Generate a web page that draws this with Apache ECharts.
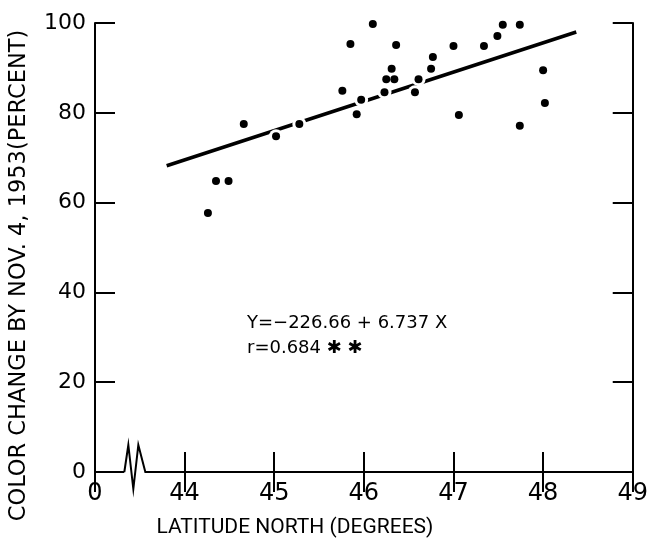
<!DOCTYPE html>
<html><head><meta charset="utf-8">
<script src="https://cdn.jsdelivr.net/npm/echarts@6/dist/echarts.min.js"></script>
<style>html,body{margin:0;padding:0;background:#fff}#c{width:651px;height:545px}</style>
</head><body><div id="c"></div>
<script>
// ---- data ----
const latitude = [44.26, 44.35, 44.49, 44.66, 45.02, 45.28, 45.76, 45.85, 45.92, 45.97,
  46.10, 46.23, 46.25, 46.31, 46.34, 46.36, 46.57, 46.61, 46.75, 46.77,
  47.00, 47.06, 47.34, 47.49, 47.55, 47.74, 47.74, 48.00, 48.02];
const colorChange = [57.7, 64.8, 64.8, 77.5, 74.8, 77.5, 84.9, 95.3, 79.7, 82.9,
  99.8, 84.6, 87.5, 89.8, 87.5, 95.1, 84.6, 87.5, 89.8, 92.4,
  94.9, 79.5, 94.9, 97.1, 99.6, 99.6, 77.1, 89.5, 82.2];
const fitLatitude = [43.80, 48.37];
const fitColorChange = [68.2, 98.0];
const xTickValues = [43, 44, 45, 46, 47, 48, 49];
const xTickLabels = ['0', '44', '45', '46', '47', '48', '49'];
const yTickValues = [0, 20, 40, 60, 80, 100];
const xBreakAt = 43.45;
const xTitle = 'LATITUDE NORTH (DEGREES)';
const yTitle = 'COLOR CHANGE BY NOV. 4, 1953(PERCENT)';
const equationLines = ['Y=\u2212226.66 + 6.737 X', 'r=0.684 \u2731 \u2731'];

const FONT = 'DejaVu Sans';
const pts = latitude.map((x, i) => [x, colorChange[i]]);
const fit = fitLatitude.map((x, i) => [x, fitColorChange[i]]);

const chart = echarts.init(document.getElementById('c'), null, {renderer: 'canvas'});
const lineStyle = {color: '#000', width: 2};
const tick = {show: true, inside: true, length: 20, lineStyle: {color: '#000', width: 2}};
const xMin = xTickValues[0], xMax = xTickValues[xTickValues.length - 1];
const yMin = yTickValues[0], yMax = yTickValues[yTickValues.length - 1];

chart.setOption({
  animation: false,
  backgroundColor: '#fff',
  grid: {left: 94, right: 14, top: 23, bottom: 73},
  xAxis: [{
    type: 'value', position: 'bottom', min: xMin, max: xMax, interval: 1,
    axisLine: {show: true, lineStyle}, axisTick: tick, splitLine: {show: false},
    axisLabel: {color: '#000', fontFamily: FONT, fontSize: 24, margin: 10,
      formatter: v => xTickLabels[xTickValues.indexOf(Math.round(v))] ?? ''},
    name: xTitle, nameLocation: 'middle', nameGap: 45,
    nameTextStyle: {color: '#000', fontFamily: 'Roboto', fontSize: 21, padding: [0, 138, 0, 0]}
  }, {
    type: 'value', position: 'top', min: xMin, max: xMax, interval: 1,
    axisLine: {show: true, lineStyle}, axisTick: tick, axisLabel: {show: false}, splitLine: {show: false}
  }],
  yAxis: [{
    type: 'value', position: 'left', min: yMin, max: yMax, interval: 20,
    axisLine: {show: true, lineStyle}, axisTick: tick, splitLine: {show: false},
    axisLabel: {color: '#000', fontFamily: FONT, fontSize: 22, margin: 9},
    name: yTitle, nameLocation: 'middle', nameGap: 64, nameRotate: 90,
    nameTextStyle: {color: '#000', fontFamily: FONT, fontSize: 22.5, padding: [0, 56, 0, 0]}
  }, {
    type: 'value', position: 'right', min: yMin, max: yMax, interval: 20,
    axisLine: {show: true, lineStyle}, axisTick: tick, axisLabel: {show: false}, splitLine: {show: false}
  }],
  series: [{
    type: 'line', data: fit, symbol: 'none', z: 2,
    lineStyle: {color: '#000', width: 3.5}
  }, {
    type: 'scatter', data: pts, symbol: 'circle', symbolSize: 14, z: 3, silent: true,
    itemStyle: {color: '#fff', opacity: 1}
  }, {
    type: 'scatter', data: pts, symbol: 'circle', symbolSize: 8, z: 4,
    itemStyle: {color: '#000', opacity: 1}
  }]
});

// axis break zigzag + equation text
const bx = chart.convertToPixel({xAxisIndex: 0}, xBreakAt);
const by = chart.convertToPixel({yAxisIndex: 0}, yMin);
chart.setOption({
  graphic: [{
    type: 'rect', shape: {x: bx - 11, y: by - 3, width: 22, height: 6}, style: {fill: '#fff'}, z: 50
  }, {
    type: 'polyline', z: 51,
    shape: {points: [[bx - 11, by], [bx - 7, by - 27], [bx - 2, by + 17], [bx + 3, by - 27], [bx + 10, by], [bx + 12, by]]},
    style: {stroke: '#000', lineWidth: 2, fill: null}
  }, {
    type: 'text', left: 247, top: 314, z: 60,
    style: {text: equationLines[0], fill: '#000', font: '18px "DejaVu Sans"'}
  }, {
    type: 'text', left: 247, top: 339, z: 60,
    style: {text: equationLines[1], fill: '#000', font: '18px "DejaVu Sans"'}
  }]
});
</script></body></html>
